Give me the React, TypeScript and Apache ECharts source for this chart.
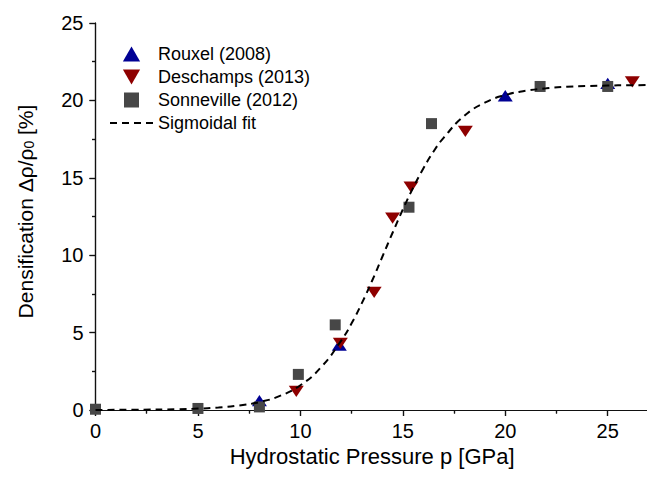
import React, { useEffect, useRef } from "react";
import * as echarts from "echarts";

const rouxelX = [8.0, 11.9, 20.0, 25.0];
const rouxelY = [0.6, 4.2, 20.3, 21.1];

const deschampsX = [9.8, 11.95, 13.6, 14.5, 15.4, 18.05, 26.2];
const deschampsY = [1.2, 4.3, 7.6, 12.4, 14.4, 18.0, 21.2];

const sonnevilleX = [0.0, 5.0, 8.0, 9.9, 11.7, 15.3, 16.4, 21.7, 25.0];
const sonnevilleY = [0.05, 0.1, 0.2, 2.3, 5.5, 13.1, 18.5, 20.9, 20.9];

const fitX = [0, 2, 4, 5, 6, 7, 8, 9, 10, 11, 12, 12.5, 13, 13.5, 14, 14.5, 15, 15.5, 16, 16.5, 17, 18, 19, 20, 21, 22, 23, 24, 25, 26, 27];
const fitY = [0.0, 0.02, 0.05, 0.09, 0.16, 0.29, 0.51, 0.91, 1.6, 2.75, 4.5, 5.6, 6.9, 8.35, 9.9, 11.45, 12.95, 14.35, 15.6, 16.7, 17.6, 19.0, 19.85, 20.35, 20.62, 20.78, 20.88, 20.93, 20.96, 20.98, 20.99];

const seriesNames = ["Rouxel (2008)", "Deschamps (2013)", "Sonneville (2012)", "Sigmoidal fit"];

const zip = (xs: number[], ys: number[]) => xs.map((x, i) => [x, ys[i]]);

const FONT = "Liberation Sans, Arial, sans-serif";

export default function App() {
  const ref = useRef<HTMLDivElement>(null);
  useEffect(() => {
    if (!ref.current) return;
    const chart = echarts.init(ref.current, undefined, { renderer: "svg" });
    const axisLine = { show: true, lineStyle: { color: "#111", width: 1.2 } };
    const baseX = { type: "value", min: 0, max: 27, interval: 5, splitLine: { show: false } };
    const baseY = { type: "value", min: 0, max: 25, interval: 5, splitLine: { show: false } };
    chart.setOption({
      animation: false,
      backgroundColor: "#fff",
      grid: { left: 95.5, top: 23, width: 553.2, height: 387, outerBoundsMode: "none" },
      legend: {
        orient: "vertical",
        left: 109,
        top: 45,
        padding: 0,
        itemWidth: 43,
        itemHeight: 15,
        itemGap: 5,
        textStyle: { fontSize: 18, fontFamily: FONT, color: "#000" },
        data: [
          seriesNames[0],
          seriesNames[1],
          seriesNames[2],
          { name: seriesNames[3], itemStyle: { opacity: 0 } },
        ],
      },
      xAxis: [
        {
          ...baseX,
          position: "bottom",
          name: "Hydrostatic Pressure p [GPa]",
          nameLocation: "middle",
          nameGap: 30,
          nameTextStyle: { fontSize: 22, fontFamily: FONT, color: "#000" },
          axisLine,
          axisTick: { show: true, inside: false, length: 6, lineStyle: { color: "#111", width: 1.2 } },
          minorTick: { show: true, splitNumber: 2, length: 3.5, lineStyle: { color: "#111", width: 1.2 } },
          axisLabel: { fontSize: 20, fontFamily: FONT, color: "#000", margin: 11, showMaxLabel: false },
        },
        {
          ...baseX,
          position: "top",
          axisLine,
          axisTick: { show: true, inside: true, length: 6, lineStyle: { color: "#111", width: 1.2 } },
          minorTick: { show: true, splitNumber: 2, length: 3.5, lineStyle: { color: "#111", width: 1.2 } },
          axisLabel: { show: false },
        },
      ],
      yAxis: [
        {
          ...baseY,
          position: "left",
          name: "Densification \u0394\u03c1/\u03c1{sub|0} [%]",
          nameLocation: "middle",
          nameGap: 60,
          nameTextStyle: {
            fontSize: 21,
            fontFamily: FONT,
            color: "#000",
            padding: [0, 0, 0, 10],
            rich: { sub: { fontSize: 14, fontFamily: FONT, color: "#000", verticalAlign: "bottom", lineHeight: 8 } },
          },
          axisLine,
          axisTick: { show: true, inside: false, length: 6, lineStyle: { color: "#111", width: 1.2 } },
          minorTick: { show: true, splitNumber: 2, length: 3.5, lineStyle: { color: "#111", width: 1.2 } },
          axisLabel: { fontSize: 20, fontFamily: FONT, color: "#000", margin: 12 },
        },
        {
          ...baseY,
          position: "right",
          axisLine,
          axisTick: { show: true, inside: true, length: 6, lineStyle: { color: "#111", width: 1.2 } },
          minorTick: { show: true, splitNumber: 2, length: 3.5, lineStyle: { color: "#111", width: 1.2 } },
          axisLabel: { show: false },
        },
      ],
      series: [
        {
          name: seriesNames[0],
          type: "scatter",
          symbol: "path://M5,0L10,8.7L0,8.7Z",
          symbolSize: [15, 13],
          symbolKeepAspect: true,
          itemStyle: { color: "#000094", opacity: 1 },
          data: zip(rouxelX, rouxelY),
          z: 3,
        },
        {
          name: seriesNames[1],
          type: "scatter",
          symbol: "path://M0,0L10,0L5,8.7Z",
          symbolSize: [15, 13],
          symbolKeepAspect: true,
          itemStyle: { color: "#8e0000", opacity: 1 },
          data: zip(deschampsX, deschampsY),
          z: 4,
        },
        {
          name: seriesNames[2],
          type: "scatter",
          symbol: "path://M0,0H10V10H0Z",
          symbolSize: 11,
          symbolKeepAspect: true,
          itemStyle: { color: "#474747", opacity: 1 },
          data: zip(sonnevilleX, sonnevilleY),
          z: 5,
        },
        {
          name: seriesNames[3],
          type: "line",
          symbol: "none",
          smooth: true,
          lineStyle: { color: "#000", width: 2, type: [7, 5] },
          itemStyle: { color: "#000" },
          data: zip(fitX, fitY),
          z: 6,
        },
      ],
    });
    return () => chart.dispose();
  }, []);
  return <div ref={ref} style={{ position: "fixed", left: 0, top: 0, width: 647, height: 479 }} />;
}
